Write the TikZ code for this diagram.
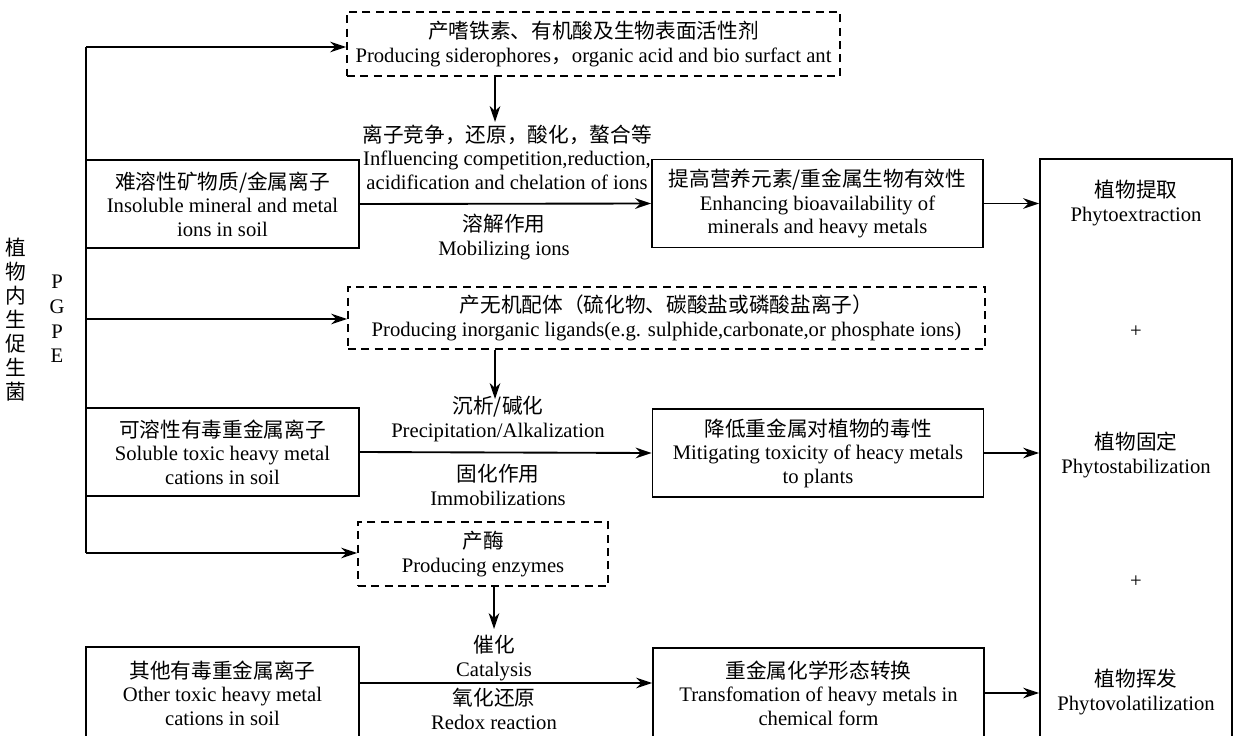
\documentclass[tikz,border=0pt]{standalone}
\usepackage{fontspec}
\setmainfont{Liberation Serif}
\newfontfamily\cjk{Noto Sans CJK SC}
\usetikzlibrary{arrows.meta}

\tikzset{
  txt/.style={font=\fontsize{15.5}{17.6}\selectfont, align=center, inner sep=0pt},
  solidbox/.style={txt, draw, line width=1.4pt},
  dashbox/.style={txt, draw, line width=1.4pt, dash pattern=on 6pt off 4pt},
  arr/.style={line width=1.4pt, -{Stealth[length=12pt,width=8pt]}},
  trunk/.style={line width=1.4pt}
}

\begin{document}
\begin{tikzpicture}[x=0.75pt,y=0.75pt,yscale=-1,xscale=1]
\useasboundingbox (0,0) rectangle (1237,735);
\clip (0,0) rectangle (1237,735);

% Text Node
\node [txt, font=\cjk\fontsize{15.5}{18}\selectfont] (bact) at (16,320) {植\\物\\内\\生\\促\\生\\菌};
% Text Node
\node [txt, font=\fontsize{15.5}{18.4}\selectfont] (pgpe) at (57,319) {P\\G\\P\\E};

%Dashed boxes
\node [dashbox, minimum width=369.75pt, minimum height=48pt] (sidero) at (593.5,44) {{\cjk 产嗜铁素、有机酸及生物表面活性剂}\\Producing siderophores{\cjk ，}organic acid and bio surfact ant};
\node [dashbox, minimum width=477.75pt, minimum height=46.5pt] (ligand) at (666.5,318) {{\cjk 产无机配体（硫化物、碳酸盐或磷酸盐离子）}\\Producing inorganic ligands(e.g. sulphide,carbonate,or phosphate ions)};
\node [dashbox, minimum width=187.5pt, minimum height=48pt] (enzyme) at (483,554) {{\cjk 产酶}\\Producing enzymes};

%Left boxes
\node [solidbox, minimum width=204.75pt, minimum height=66pt] (insol) at (222.5,204) {{\cjk 难溶性矿物质/金属离子}\\Insoluble mineral and metal\\ions in soil};
\node [solidbox, minimum width=204.75pt, minimum height=66pt] (soluble) at (222.5,452) {{\cjk 可溶性有毒重金属离子}\\Soluble toxic heavy metal\\cations in soil};
\node [solidbox, minimum width=204.75pt, minimum height=69pt] (other) at (222.5,693) {{\cjk 其他有毒重金属离子}\\Other toxic heavy metal\\cations in soil};

%Middle boxes
\node [solidbox, minimum width=248.25pt, minimum height=66pt] (enhance) at (817.5,203.5) {{\cjk 提高营养元素/重金属生物有效性}\\Enhancing bioavailability of\\minerals and heavy metals};
\node [solidbox, minimum width=248.25pt, minimum height=66pt] (mitigate) at (818,453) {{\cjk 降低重金属对植物的毒性}\\Mitigating toxicity of heacy metals\\to plants};
\node [solidbox, minimum width=248.25pt, minimum height=67.5pt] (transform) at (818.5,693) {{\cjk 重金属化学形态转换}\\Transfomation of heavy metals in\\chemical form};

%Right box
\node [solidbox, minimum width=144pt, minimum height=439.5pt] (phyto) at (1136,452) {};
\node [txt] (extract) at (1136,203) {{\cjk 植物提取}\\Phytoextraction};
\node [txt] (plusa) at (1136,332) {+};
\node [txt] (stabil) at (1136,455) {{\cjk 植物固定}\\Phytostabilization};
\node [txt] (plusb) at (1136,582) {+};
\node [txt] (volat) at (1136,692) {{\cjk 植物挥发}\\Phytovolatilization};

%Arrow labels
\node [txt] (ionlab) at (507,157) {{\cjk 离子竞争，还原，酸化，螯合等}\\Influencing competition,reduction,\\acidification and chelation of ions};
\node [txt] (mobil) at (504,237) {{\cjk 溶解作用}\\Mobilizing ions};
\node [txt] (precip) at (498,419) {{\cjk 沉析/碱化}\\Precipitation/Alkalization};
\node [txt] (immob) at (498,485) {{\cjk 固化作用}\\Immobilizations};
\node [txt] (catal) at (494,658) {{\cjk 催化}\\Catalysis};
\node [txt] (redox) at (494,709) {{\cjk 氧化还原}\\Redox reaction};

%Straight Lines
\coordinate (ttop) at (86,47);
\coordinate (tmid) at (86,319);
\coordinate (tbot) at (86,553);
\draw [trunk] (ttop) -- (tbot);
\draw [arr] (ttop) -- (ttop -| sidero.west);
\draw [arr] (tmid) -- (tmid -| ligand.west);
\draw [arr] (tbot) -- (tbot -| enzyme.west);

\coordinate (da) at (495,122);
\coordinate (db) at (495,399);
\coordinate (dc) at (494,629);
\draw [arr] (sidero.south -| da) -- (da);
\draw [arr] (ligand.south -| db) -- (db);
\draw [arr] (enzyme.south -| dc) -- (dc);

\coordinate (lc) at (600,683);
\draw [arr] (insol.east) -- (enhance.west);
\draw [arr] (soluble.east) -- (mitigate.west);
\draw [arr] (other.east |- lc) -- (transform.west |- lc);

\draw [arr] (enhance.east) -- (enhance.east -| phyto.west);
\draw [arr] (mitigate.east) -- (mitigate.east -| phyto.west);
\draw [arr] (transform.east) -- (transform.east -| phyto.west);

\end{tikzpicture}
\end{document}
